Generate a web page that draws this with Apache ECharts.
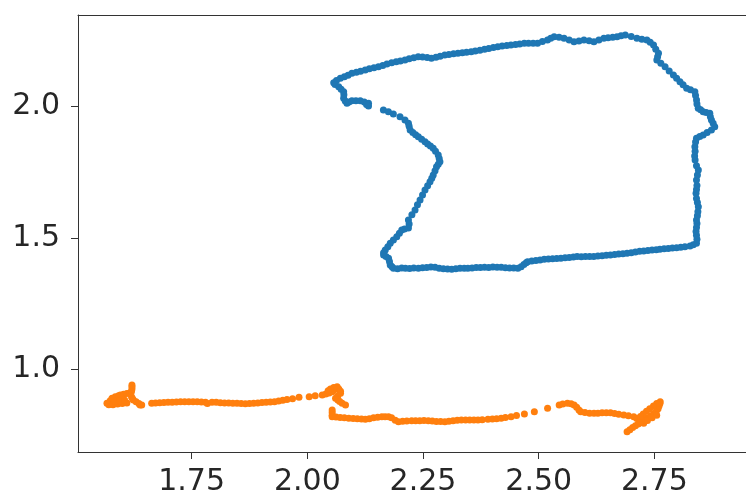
<!DOCTYPE html>
<html>
<head>
<meta charset="utf-8">
<script src="https://cdn.jsdelivr.net/npm/echarts@6/dist/echarts.min.js"></script>
<style>
  html, body { margin: 0; padding: 0; background: #ffffff; }
  #chart { width: 746px; height: 497px; }
</style>
</head>
<body>
<div id="chart"></div>
<script>
// Axis ranges and tick positions
const xRange = [1.5044, 2.948];
const yRange = [0.685, 2.349];
const xTickValues = [1.75, 2.00, 2.25, 2.50, 2.75];
const yTickValues = [1.0, 1.5, 2.0];

// First track: closed loop in the upper right (x, y)
const blueTrack = [
  [2.2185,1.9368],[2.2200,1.9250],[2.2222,1.9113],[2.2280,1.9020],[2.2340,1.8930],[2.2399,1.8858],
  [2.2470,1.8760],[2.2543,1.8668],[2.2600,1.8580],[2.2660,1.8500],[2.2721,1.8416],[2.2770,1.8300],
  [2.2829,1.8161],[2.2850,1.8030],[2.2865,1.7906],[2.2830,1.7810],[2.2792,1.7716],[2.2760,1.7560],
  [2.2721,1.7400],[2.2690,1.7270],[2.2651,1.7145],[2.2600,1.6990],[2.2543,1.6829],[2.2490,1.6640],
  [2.2436,1.6448],[2.2380,1.6260],[2.2328,1.6067],[2.2260,1.5880],[2.2185,1.5687],[2.2200,1.5530],
  [2.2185,1.5382],[2.2100,1.5340],[2.2041,1.5306],[2.1990,1.5180],[2.1933,1.5051],[2.1860,1.4920],
  [2.1792,1.4800],[2.1740,1.4670],[2.1684,1.4545],[2.1648,1.4440],[2.1648,1.4354],[2.1700,1.4290],
  [2.1755,1.4229],[2.1775,1.4100],[2.1792,1.3974],[2.1830,1.3900],[2.1862,1.3848],
  [2.195,1.3830],[2.204,1.3860],[2.212,1.3848],[2.221,1.3835],[2.230,1.3860],[2.240,1.3848],
  [2.249,1.3870],[2.258,1.3880],[2.267,1.3890],[2.276,1.3886],[2.285,1.3850],[2.294,1.3830],
  [2.303,1.3815],[2.312,1.3810],[2.321,1.3830],[2.330,1.3845],[2.339,1.3850],[2.347,1.3848],
  [2.356,1.3860],[2.365,1.3875],[2.374,1.3880],[2.383,1.3886],[2.392,1.3880],[2.401,1.3890],
  [2.410,1.3886],[2.419,1.3886],[2.428,1.3870],[2.437,1.3860],[2.446,1.3855],[2.455,1.3848],
  [2.462,1.3900],[2.468,1.3990],[2.473,1.4060],[2.476,1.4099],[2.485,1.4120],[2.494,1.4140],
  [2.503,1.4165],[2.512,1.4191],[2.521,1.4200],[2.530,1.4210],[2.539,1.4220],[2.548,1.4229],
  [2.557,1.4245],[2.566,1.4260],[2.575,1.4275],[2.583,1.4290],[2.592,1.4285],[2.601,1.4295],
  [2.610,1.4290],[2.619,1.4290],[2.628,1.4310],[2.637,1.4325],[2.646,1.4340],[2.655,1.4354],
  [2.664,1.4370],[2.673,1.4385],[2.682,1.4400],[2.691,1.4419],[2.700,1.4440],[2.709,1.4465],
  [2.718,1.4490],[2.727,1.4507],[2.736,1.4520],[2.745,1.4540],[2.754,1.4555],[2.762,1.4571],
  [2.771,1.4585],[2.780,1.4600],[2.789,1.4615],[2.798,1.4632],[2.807,1.4650],[2.816,1.4670],
  [2.827,1.4697],[2.834,1.4740],[2.841,1.4800],
  [2.842,1.4950],[2.841,1.5100],[2.840,1.5250],[2.841,1.5400],[2.842,1.5550],[2.841,1.5687],
  [2.843,1.5850],[2.844,1.6000],[2.845,1.6193],[2.843,1.6350],[2.841,1.6500],[2.840,1.6703],
  [2.841,1.6850],[2.842,1.7000],[2.841,1.7209],[2.843,1.7400],[2.845,1.7590],[2.841,1.7750],
  [2.838,1.7971],[2.837,1.8120],[2.838,1.8300],[2.8375,1.8477],[2.839,1.8650],[2.841,1.8797],
  [2.848,1.8860],[2.8555,1.8923],[2.864,1.9020],[2.8733,1.9113],[2.8804,1.9239],[2.877,1.9370],
  [2.8733,1.9494],[2.871,1.9620],[2.8697,1.9749],[2.862,1.9780],[2.8555,1.9810],[2.850,1.9880],
  [2.8448,1.9939],[2.842,2.0100],[2.8411,2.0255],[2.839,2.0420],[2.8375,2.0571],[2.828,2.0640],
  [2.8197,2.0700],[2.812,2.0830],[2.8053,2.0952],[2.798,2.1080],[2.7911,2.1207],[2.782,2.1360],
  [2.7731,2.1523],[2.764,2.1650],[2.7553,2.1778],[2.757,2.1900],[2.7589,2.2033],[2.753,2.2190],
  [2.7482,2.2349],[2.741,2.2450],[2.7338,2.2539],[2.723,2.2570],[2.7123,2.2604],[2.700,2.2670],
  [2.6872,2.2729],[2.678,2.2700],[2.6693,2.2665],[2.660,2.2640],[2.650,2.2620],[2.6408,2.2604],
  [2.630,2.2540],[2.6193,2.2474],[2.609,2.2510],[2.5978,2.2539],[2.587,2.2500],[2.5763,2.2474],
  [2.566,2.2540],[2.5548,2.2604],[2.544,2.2640],[2.5334,2.2665],[2.526,2.2600],[2.5190,2.2539],
  [2.508,2.2480],[2.4975,2.2414],[2.488,2.2414],[2.478,2.2410],[2.4689,2.2414],[2.459,2.2390],
  [2.450,2.2370],[2.4401,2.2349],[2.431,2.2330],[2.421,2.2310],[2.4115,2.2285],[2.402,2.2250],
  [2.392,2.2215],[2.3829,2.2186],[2.373,2.2150],[2.363,2.2120],[2.3541,2.2094],[2.344,2.2070],
  [2.335,2.2050],[2.3255,2.2033],[2.316,2.2010],[2.306,2.1990],[2.2970,2.1968],[2.287,2.1920],
  [2.278,2.1880],[2.2682,2.1843],[2.259,2.1870],[2.249,2.1890],[2.2396,2.1904],[2.230,2.1860],
  [2.220,2.1820],[2.2110,2.1778],[2.201,2.1740],[2.192,2.1710],[2.1822,2.1675],[2.172,2.1620],
  [2.163,2.1570],[2.1537,2.1523],[2.144,2.1480],[2.134,2.1440],[2.1251,2.1397],[2.115,2.1350],
  [2.106,2.1310],[2.0963,2.1271],[2.088,2.1200],[2.080,2.1140],[2.0714,2.1081],[2.063,2.1000],
  [2.0570,2.0914],[2.060,2.0840],[2.0678,2.0761],[2.073,2.0660],[2.0785,2.0571],[2.079,2.0450],
  [2.0785,2.0320],[2.082,2.0220],[2.0856,2.0129],[2.090,2.0180],[2.0963,2.0228],[2.105,2.0228],
  [2.1144,2.0228],[2.123,2.0180],[2.1322,2.0129],[2.128,2.0080],[2.1322,2.0027],
  [2.1644,1.9874],[2.1752,1.9810],[2.1859,1.9722],[2.2003,1.9619],[2.2110,1.9494]
];

// Second track: long low path along the bottom (x, y)
const orangeTrack = [
  [1.567,0.8706],[1.571,0.8650],[1.575,0.8700],[1.574,0.8800],[1.578,0.8896],[1.585,0.8950],
  [1.592,0.8990],[1.596,0.9022],[1.603,0.9050],[1.610,0.9080],[1.616,0.9100],[1.620,0.9150],
  [1.621,0.9250],[1.621,0.9330],[1.621,0.9402],[1.620,0.8957],[1.622,0.8890],[1.624,0.8831],
  [1.630,0.8760],[1.636,0.8700],[1.6385,0.8641],[1.580,0.8650],[1.590,0.8680],[1.600,0.8700],
  [1.610,0.8720],[1.585,0.8780],[1.595,0.8800],[1.605,0.8830],[1.6421,0.8641],
  [1.6636,0.8706],[1.672,0.8720],[1.681,0.8730],[1.690,0.8735],[1.699,0.8740],[1.708,0.8744],
  [1.717,0.8750],[1.726,0.8760],[1.735,0.8765],[1.744,0.8767],[1.753,0.8765],[1.762,0.8760],
  [1.771,0.8755],[1.780,0.8744],[1.784,0.8700],[1.794,0.8744],[1.803,0.8744],[1.812,0.8730],
  [1.821,0.8720],[1.830,0.8715],[1.839,0.8710],[1.848,0.8706],[1.857,0.8700],[1.866,0.8690],
  [1.875,0.8700],[1.884,0.8706],[1.893,0.8720],[1.902,0.8735],[1.911,0.8745],[1.920,0.8755],
  [1.929,0.8767],[1.938,0.8790],[1.947,0.8820],[1.956,0.8845],[1.968,0.8880],[1.982,0.8934],
  [2.004,0.8957],[2.017,0.8990],
  [2.0322,0.9022],[2.040,0.9060],[2.047,0.9100],[2.0537,0.9147],[2.058,0.9220],[2.062,0.9290],
  [2.0644,0.9338],[2.068,0.9250],[2.0717,0.9160],[2.0717,0.9086],[2.066,0.8990],[2.061,0.8896],
  [2.066,0.8830],[2.070,0.8770],[2.0752,0.8706],[2.0825,0.8641],[2.057,0.9310],[2.050,0.9250],
  [2.045,0.9180],
  [2.0537,0.8451],[2.0537,0.8350],[2.0537,0.8250],[2.0537,0.8196],[2.062,0.8180],[2.071,0.8165],
  [2.080,0.8150],[2.0896,0.8135],[2.099,0.8125],[2.108,0.8115],[2.117,0.8105],[2.1254,0.8097],
  [2.134,0.8120],[2.143,0.8150],[2.152,0.8175],[2.1611,0.8196],[2.168,0.8196],[2.1755,0.8196],
  [2.182,0.8150],[2.190,0.8060],[2.1970,0.8005],[2.206,0.8020],[2.215,0.8030],[2.2255,0.8043],
  [2.234,0.8043],[2.243,0.8040],[2.252,0.8045],[2.2614,0.8043],[2.270,0.8030],[2.279,0.8015],
  [2.288,0.8010],[2.2973,0.8005],[2.306,0.8020],[2.315,0.8040],[2.324,0.8055],[2.3329,0.8070],
  [2.342,0.8070],[2.351,0.8065],[2.360,0.8070],[2.3688,0.8070],[2.378,0.8080],[2.3903,0.8097],
  [2.400,0.8110],[2.409,0.8120],[2.4189,0.8135],[2.428,0.8160],[2.4403,0.8196],[2.452,0.8240],
  [2.4691,0.8298],[2.4906,0.8386],[2.5192,0.8515],[2.5443,0.8641],[2.552,0.8680],[2.5621,0.8706],
  [2.570,0.8690],[2.5765,0.8641],[2.582,0.8550],[2.587,0.8450],[2.5907,0.8386],[2.600,0.8350],
  [2.610,0.8330],[2.6195,0.8325],[2.628,0.8330],[2.637,0.8340],[2.646,0.8345],[2.6551,0.8348],
  [2.664,0.8320],[2.673,0.8290],[2.6839,0.8260],[2.694,0.8230],[2.7054,0.8196],[2.712,0.8130],
  [2.7196,0.8070],
  [2.691,0.7624],[2.697,0.7700],[2.703,0.7780],[2.709,0.7850],[2.715,0.7920],[2.7269,0.7944],
  [2.721,0.8000],[2.730,0.8080],[2.736,0.8150],[2.742,0.8220],[2.748,0.8300],[2.754,0.8400],
  [2.758,0.8500],[2.760,0.8600],[2.762,0.8700],[2.7626,0.8767],[2.755,0.8700],[2.748,0.8600],
  [2.740,0.8500],[2.733,0.8400],[2.726,0.8300],[2.720,0.8200],[2.735,0.8050],[2.745,0.8150],
  [2.755,0.8250]
];

const chart = echarts.init(document.getElementById('chart'), null, { renderer: 'canvas' });

const tickLabelStyle = {
  color: '#262626',
  fontFamily: 'DejaVu Sans',
  fontSize: 30
};
const spine = { show: true, lineStyle: { color: '#333333', width: 1 } };

chart.setOption({
  animation: false,
  backgroundColor: '#ffffff',
  grid: { left: 78, top: 15, width: 680, bottom: 45, show: false },
  xAxis: [
    {
      type: 'value',
      position: 'bottom',
      min: xRange[0], max: xRange[1],
      axisLine: spine,
      splitLine: { show: false },
      axisTick: { show: true, length: 7, lineStyle: { color: '#333333', width: 1 }, customValues: xTickValues },
      axisLabel: Object.assign({ margin: 15, customValues: xTickValues, formatter: v => v.toFixed(2) }, tickLabelStyle)
    },
    {
      // top frame line only
      type: 'value',
      position: 'top',
      min: xRange[0], max: xRange[1],
      axisLine: spine,
      splitLine: { show: false },
      axisTick: { show: false },
      axisLabel: { show: false }
    }
  ],
  yAxis: {
    type: 'value',
    position: 'left',
    min: yRange[0], max: yRange[1],
    axisLine: spine,
    splitLine: { show: false },
    axisTick: { show: true, length: 7, lineStyle: { color: '#333333', width: 1 }, customValues: yTickValues },
    axisLabel: Object.assign({ margin: 18, customValues: yTickValues, formatter: v => v.toFixed(1) }, tickLabelStyle)
  },
  series: [
    {
      type: 'scatter',
      xAxisIndex: 0,
      data: blueTrack,
      symbol: 'circle',
      symbolSize: 7,
      itemStyle: { color: '#1f77b4', opacity: 1 }
    },
    {
      type: 'scatter',
      xAxisIndex: 0,
      data: orangeTrack,
      symbol: 'circle',
      symbolSize: 7,
      itemStyle: { color: '#ff7f0e', opacity: 1 }
    }
  ]
});
</script>
</body>
</html>
